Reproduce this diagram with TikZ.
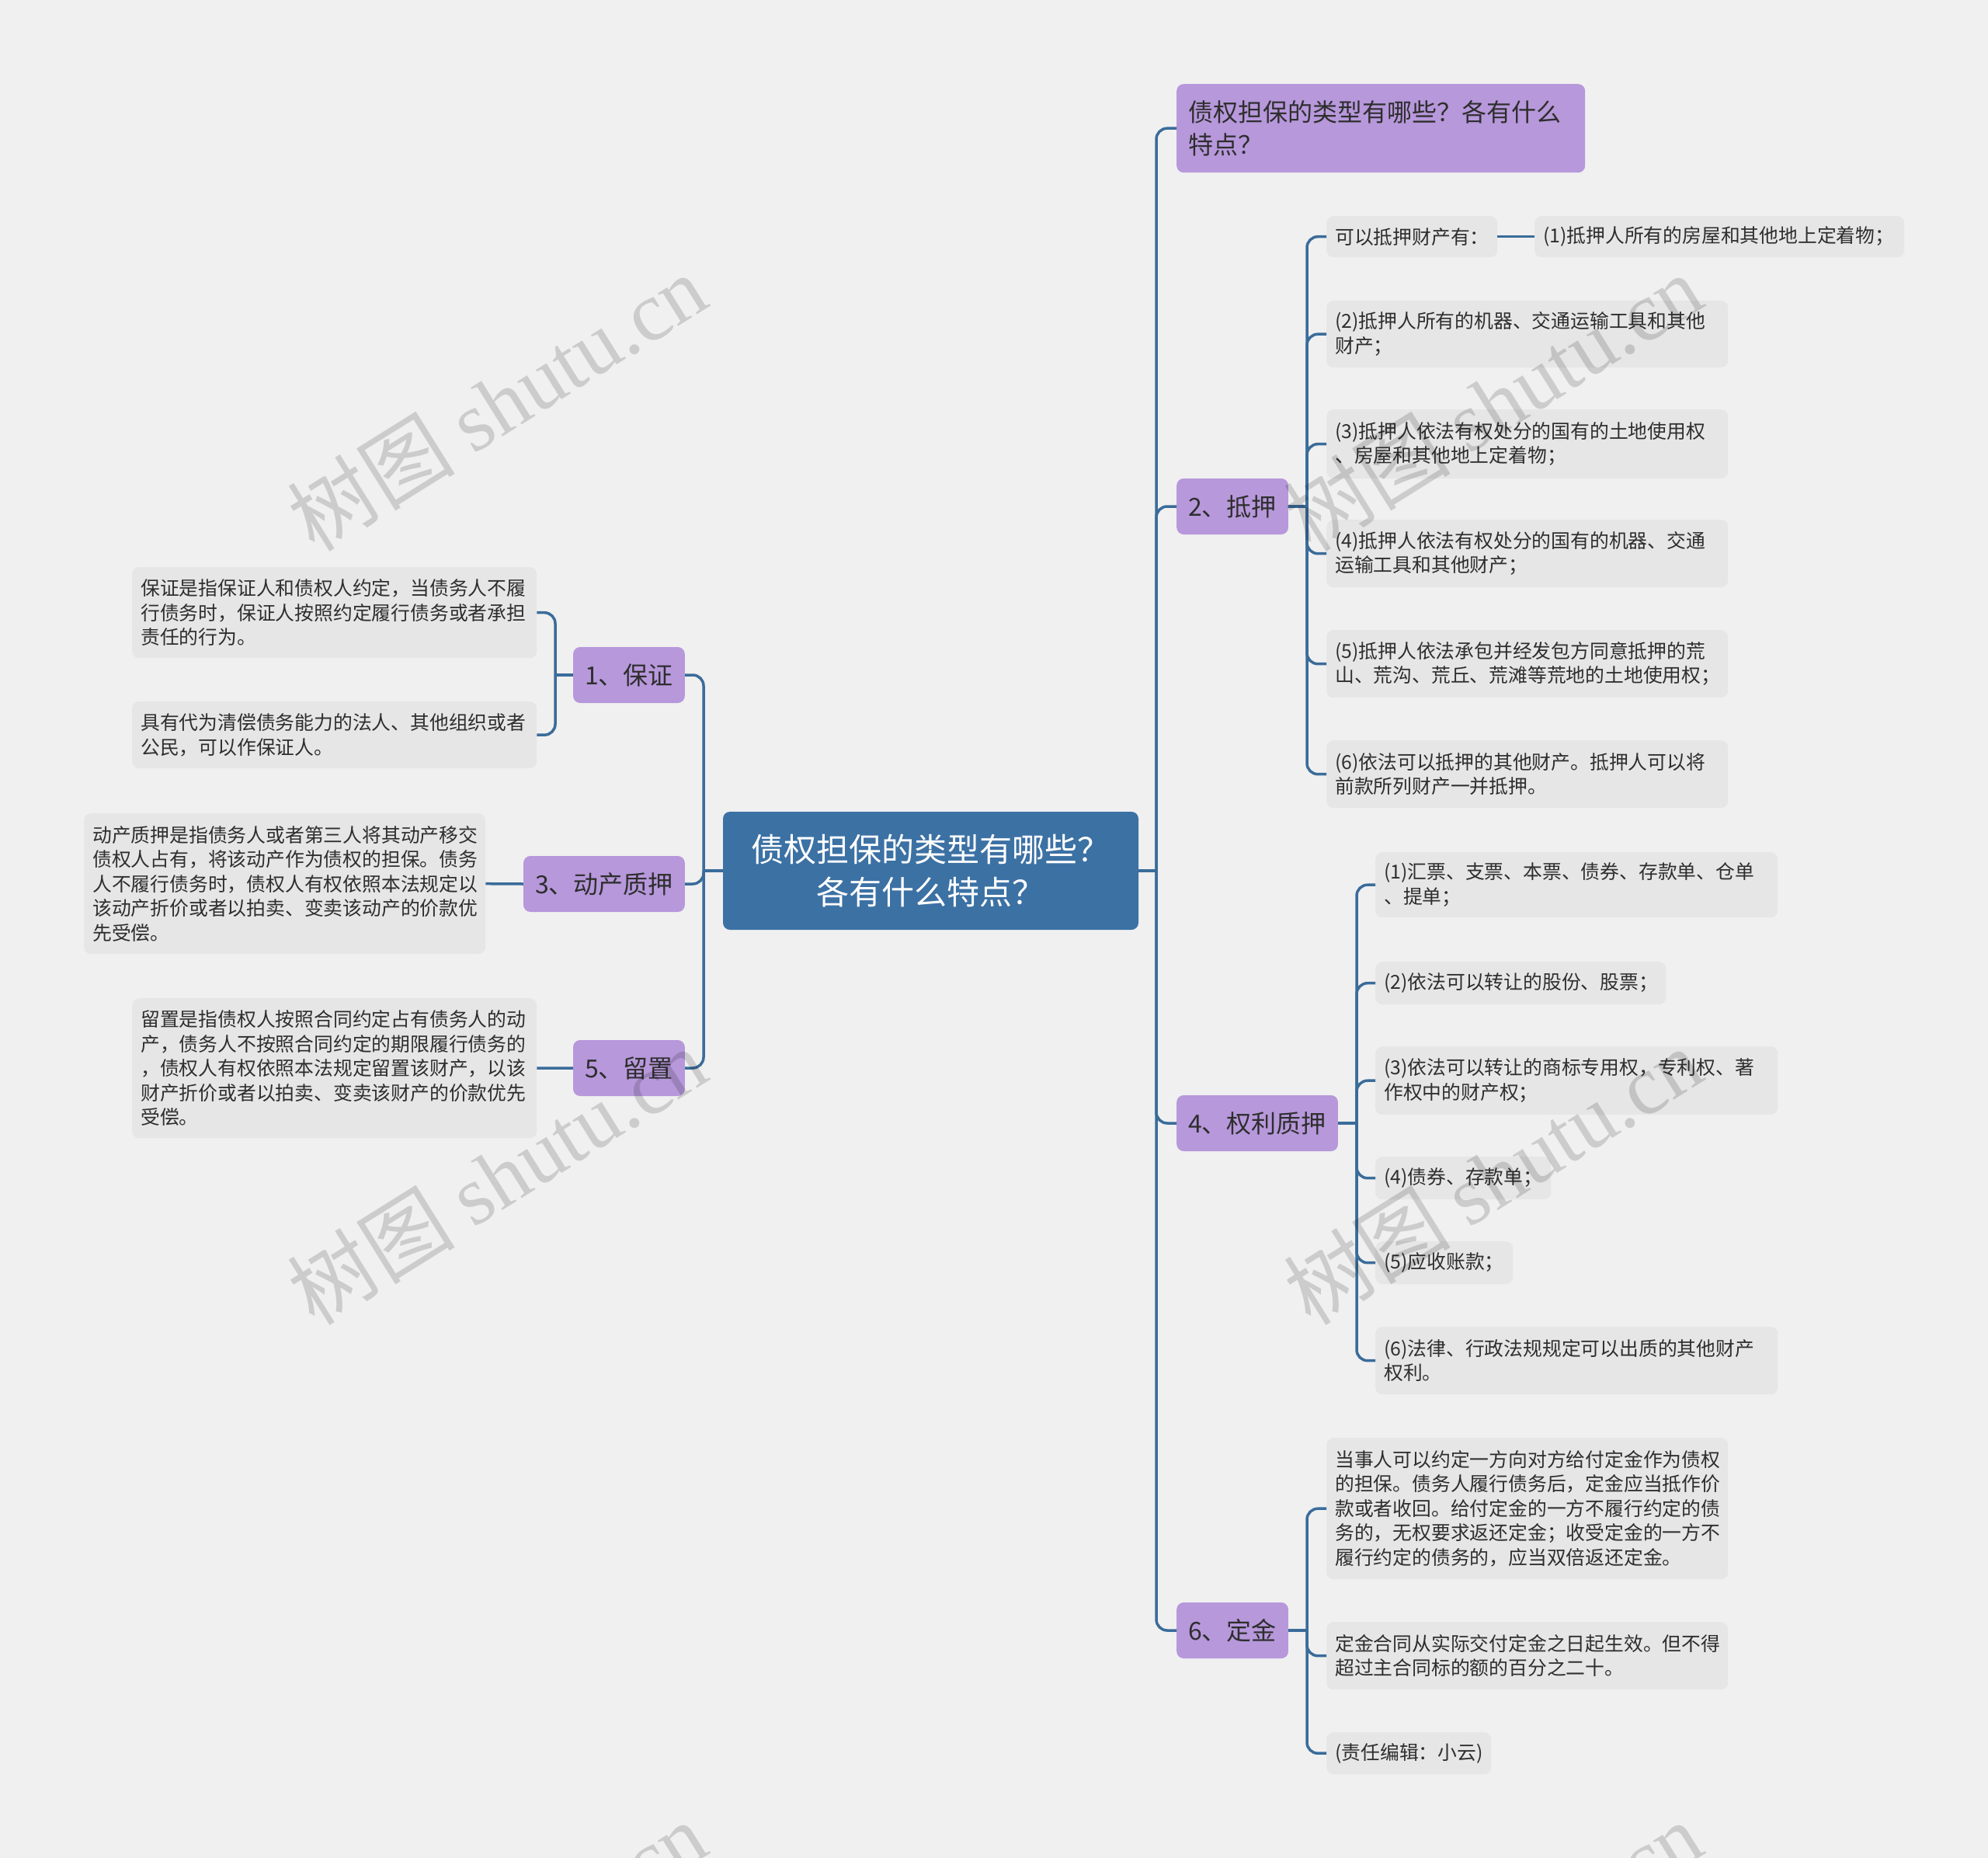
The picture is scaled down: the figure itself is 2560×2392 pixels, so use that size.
\documentclass[tikz,border=0pt]{standalone}
\usepackage{fontspec}
\setmainfont{Noto Sans CJK SC}
\newfontfamily\wmlatin{Liberation Serif}
\newfontfamily\wmcjk{Noto Sans CJK SC}
\definecolor{bgc}{HTML}{F0F0F0}
\definecolor{leafc}{HTML}{E6E6E6}
\definecolor{purp}{HTML}{B798DB}
\definecolor{rootc}{HTML}{3C71A4}
\definecolor{linec}{HTML}{3A6C9A}
\definecolor{txt}{HTML}{2E2E2E}
\begin{document}
\begin{tikzpicture}[x=1pt,y=-1pt,
  conn/.style={draw=linec, line width=3.5pt, rounded corners=14pt},
  leaf/.style={fill=leafc, rounded corners=9pt, anchor=north west, inner xsep=11pt, inner ysep=0pt,
    align=left, text=txt, font=\fontsize{24.8pt}{31.5pt}\selectfont},
  lvl/.style={fill=purp, rounded corners=9pt, inner xsep=15pt, inner ysep=0pt, minimum height=72pt,
    text=txt, font=\fontsize{32pt}{40pt}\selectfont},
  rootn/.style={fill=rootc, rounded corners=9pt, minimum width=535pt, minimum height=152pt,
    align=center, text=white, font=\fontsize{42pt}{55pt}\selectfont},
  wm/.style={text=black, text opacity=0.15, rotate=32, font=\fontsize{108pt}{108pt}\selectfont}
]
\useasboundingbox (0,0) rectangle (2560,2392);
\fill[bgc] (0,0) rectangle (2560,2392);

% root and main branches
\node[rootn] (root) at (1198.5,1121) {债权担保的类型有哪些？\\各有什么特点？};
\node[fill=purp, rounded corners=9pt, anchor=north west, inner xsep=15pt, inner ysep=0pt,
  text width=496pt, minimum height=114pt, align=left, text=txt,
  font=\fontsize{32pt}{42.5pt}\selectfont] (top) at (1515,108) {债权担保的类型有哪些？各有什么\\特点？};
\node[lvl, anchor=west] (n2) at (1515,652) {2、抵押};
\node[lvl, anchor=west] (n4) at (1515,1446) {4、权利质押};
\node[lvl, anchor=west] (n6) at (1515,2099) {6、定金};
\node[lvl, anchor=east] (n1) at (882,869) {1、保证};
\node[lvl, anchor=east] (n3) at (882,1138) {3、动产质押};
\node[lvl, anchor=east] (n5) at (882,1375) {5、留置};

% left leaves
\node[leaf, text width=499pt, minimum height=117pt] (l1a) at (170,730) {保证是指保证人和债权人约定，当债务人不履\\行债务时，保证人按照约定履行债务或者承担\\责任的行为。};
\node[leaf, text width=499pt, minimum height=86pt] (l1b) at (170,903) {具有代为清偿债务能力的法人、其他组织或者\\公民，可以作保证人。};
\node[leaf, text width=495pt, minimum height=181pt] (l3) at (108,1047) {动产质押是指债务人或者第三人将其动产移交\\债权人占有，将该动产作为债权的担保。债务\\人不履行债务时，债权人有权依照本法规定以\\该动产折价或者以拍卖、变卖该动产的价款优\\先受偿。};
\node[leaf, text width=499pt, minimum height=180pt] (l5) at (170,1285) {留置是指债权人按照合同约定占有债务人的动\\产，债务人不按照合同约定的期限履行债务的\\，债权人有权依照本法规定留置该财产，以该\\财产折价或者以拍卖、变卖该财产的价款优先\\受偿。};

% 抵押 leaves
\node[leaf, text width=198pt, minimum height=53pt] (r2a) at (1708,278) {可以抵押财产有：};
\node[leaf, text width=454pt, minimum height=53pt] (r2a1) at (1976,278) {(1)抵押人所有的房屋和其他地上定着物；};
\node[leaf, text width=495pt, minimum height=86pt] (r2b) at (1708,387) {(2)抵押人所有的机器、交通运输工具和其他\\财产；};
\node[leaf, text width=495pt, minimum height=89pt] (r2c) at (1708,527) {(3)抵押人依法有权处分的国有的土地使用权\\、房屋和其他地上定着物；};
\node[leaf, text width=495pt, minimum height=87pt] (r2d) at (1708,669) {(4)抵押人依法有权处分的国有的机器、交通\\运输工具和其他财产；};
\node[leaf, text width=495pt, minimum height=87pt] (r2e) at (1708,811) {(5)抵押人依法承包并经发包方同意抵押的荒\\山、荒沟、荒丘、荒滩等荒地的土地使用权；};
\node[leaf, text width=495pt, minimum height=87pt] (r2f) at (1708,953) {(6)依法可以抵押的其他财产。抵押人可以将\\前款所列财产一并抵押。};

% 权利质押 leaves
\node[leaf, text width=496pt, minimum height=84pt] (r4a) at (1771,1097) {(1)汇票、支票、本票、债券、存款单、仓单\\、提单；};
\node[leaf, text width=352pt, minimum height=55pt] (r4b) at (1771,1238) {(2)依法可以转让的股份、股票；};
\node[leaf, text width=496pt, minimum height=88pt] (r4c) at (1771,1347) {(3)依法可以转让的商标专用权，专利权、著\\作权中的财产权；};
\node[leaf, text width=204pt, minimum height=55pt] (r4d) at (1771,1489) {(4)债券、存款单；};
\node[leaf, text width=155pt, minimum height=55pt] (r4e) at (1771,1598) {(5)应收账款；};
\node[leaf, text width=496pt, minimum height=87pt] (r4f) at (1771,1708) {(6)法律、行政法规规定可以出质的其他财产\\权利。};

% 定金 leaves
\node[leaf, text width=495pt, minimum height=182pt] (r6a) at (1708,1851) {当事人可以约定一方向对方给付定金作为债权\\的担保。债务人履行债务后，定金应当抵作价\\款或者收回。给付定金的一方不履行约定的债\\务的，无权要求返还定金；收受定金的一方不\\履行约定的债务的，应当双倍返还定金。};
\node[leaf, text width=495pt, minimum height=87pt] (r6b) at (1708,2088) {定金合同从实际交付定金之日起生效。但不得\\超过主合同标的额的百分之二十。};
\node[leaf, text width=190pt, minimum height=54pt] (r6c) at (1708,2230) {(责任编辑：小云)};

% junction coordinates
\coordinate (cR) at (1489,1121);
\coordinate (cL) at (906,1121);
\coordinate (c2) at (1683,652);
\coordinate (c4) at (1747,1446);
\coordinate (c6) at (1683,2099);
\coordinate (c1) at (715,869);

% connectors
\draw[conn] (root.east) -- (cR);
\foreach \n in {top,n2,n4,n6} \draw[conn] (cR) |- (\n.west);
\draw[conn] (root.west) -- (cL);
\foreach \n in {n1,n3,n5} \draw[conn] (cL) |- (\n.east);
\draw[conn] (n2.east) -- (c2);
\foreach \n in {r2a,r2b,r2c,r2d,r2e,r2f} \draw[conn] (c2) |- (\n.west);
\draw[conn] (r2a.east) -- (r2a1.west);
\draw[conn] (n4.east) -- (c4);
\foreach \n in {r4a,r4b,r4c,r4d,r4e,r4f} \draw[conn] (c4) |- (\n.west);
\draw[conn] (n6.east) -- (c6);
\foreach \n in {r6a,r6b,r6c} \draw[conn] (c6) |- (\n.west);
\draw[conn] (n1.west) -- (c1);
\foreach \n in {l1a,l1b} \draw[conn] (c1) |- (\n.east);
\draw[conn] (n3.west) -- (l3.east);
\draw[conn] (n5.west) -- (l5.east);

% watermarks
\begin{scope}
\clip (0,0) rectangle (2560,2392);
\node[wm] (wm1) at (640,518) {{\wmcjk 树图} {\wmlatin shutu.cn}};
\node[wm] (wm2) at (640,1514) {{\wmcjk 树图} {\wmlatin shutu.cn}};
\node[wm] (wm3) at (1922,518) {{\wmcjk 树图} {\wmlatin shutu.cn}};
\node[wm] (wm4) at (1922,1514) {{\wmcjk 树图} {\wmlatin shutu.cn}};
\node[wm] (wm5) at (640,2510) {{\wmcjk 树图} {\wmlatin shutu.cn}};
\node[wm] (wm6) at (1922,2510) {{\wmcjk 树图} {\wmlatin shutu.cn}};
\end{scope}
\end{tikzpicture}
\end{document}
